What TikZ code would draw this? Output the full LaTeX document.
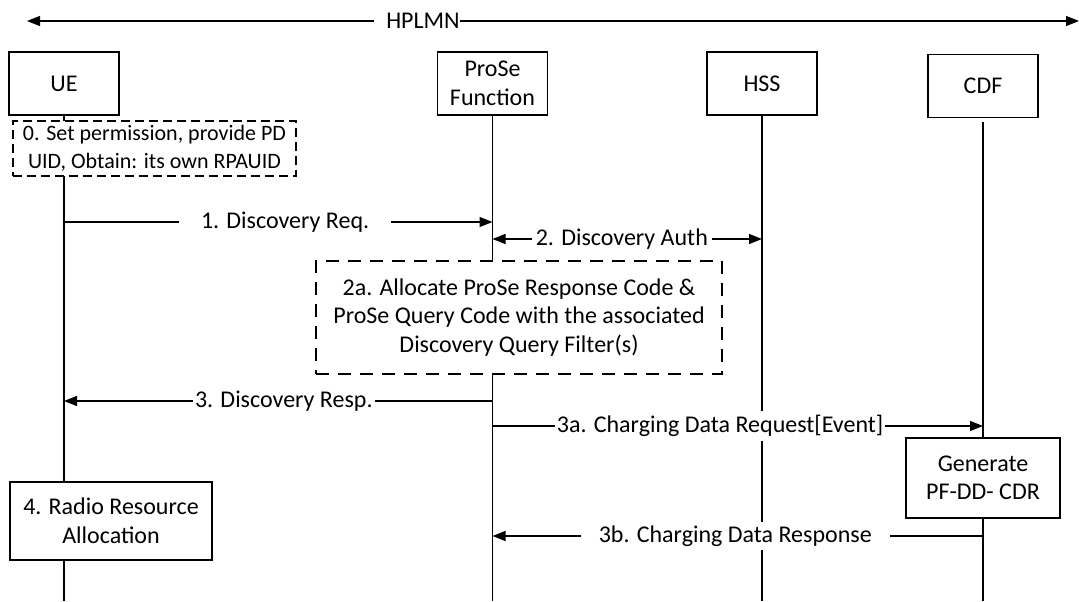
\documentclass[tikz,border=0pt]{standalone}
\usepackage{fontspec}
\setmainfont{Carlito}
\usetikzlibrary{positioning,arrows.meta}
\tikzset{
	entity/.style={draw, fill=white, minimum width=110pt, minimum height=63pt, align=center, inner sep=0},
	notebox/.style={draw, fill=white, dash pattern=on 9pt off 5pt, align=center, inner sep=0, font=\fontsize{22}{27.5}\selectfont},
	allocbox/.style={draw, fill=white, dash pattern=on 13pt off 9pt, align=center, inner sep=0},
	actbox/.style={draw, fill=white, align=center, inner sep=0},
	msglabel/.style={fill=white, inner ysep=4pt, inner xsep=2pt},
	>={Triangle[length=13pt,width=10pt]}
}

\begin{document}
\begin{tikzpicture}[x=1pt, y=-1pt, line width=1.2pt, font=\fontsize{24}{28.5}\selectfont]
	\useasboundingbox (0,0) rectangle (1079,602);
	
	% entities
	\node [entity] (ue) at (64,83.5) {UE};
	\node [entity] (prose) at (492.5,83.5) {ProSe\\Function};
	\node [entity] (hss) at (762,83.5) {HSS};
	\node [entity] (cdf) at (983,86) {CDF};
	\coordinate (bot) at (0,601);
	
	% HPLMN span
	\node [inner sep=0] (hplmn) at (423,21) {HPLMN};
	\coordinate (lft) at (27,21);
	\coordinate (rgt) at (1079,21);
	\draw [->] ([xshift=-12pt]hplmn.west) -- (lft);
	\draw [->] (hplmn.east) -- (rgt);
	
	% lifelines
	\draw (ue.south) -- (ue.south |- bot);
	\draw (prose.south) -- (prose.south |- bot);
	\draw (hss.south) -- (hss.south |- bot);
	\draw ([yshift=-4pt]cdf.south) -- (cdf.south |- bot);
	
	% local steps
	\node [notebox, minimum width=283pt, minimum height=55pt] (n0) at (154.5,148.5) {0. Set permission, provide PD\\UID, Obtain: its own RPAUID};
	\node [allocbox, minimum width=406pt, minimum height=113pt] (n2a) at (519,317.5) {2a. Allocate ProSe Response Code \&\\ProSe Query Code with the associated\\Discovery Query Filter(s)};
	\node [actbox, minimum width=154pt, minimum height=80pt] (gen) at (983,478) {Generate\\PF-DD- CDR};
	\node [actbox, minimum width=202pt, minimum height=78pt] (radio) at (111,521) {4. Radio Resource\\Allocation};
	
	% messages
	\coordinate (s1) at (0,222);
	\coordinate (s2) at (0,239);
	\coordinate (s3) at (0,401);
	\coordinate (s3a) at (0,426);
	\coordinate (s3b) at (0,536);
	\draw [->] (ue |- s1) -- node [msglabel, pos=0.516, inner xsep=22pt] {1. Discovery Req.} (prose |- s1);
	\draw [<->] (prose |- s2) -- node [msglabel, pos=0.48, inner xsep=4pt] {2. Discovery Auth} (hss |- s2);
	\draw [->] (prose |- s3) -- node [msglabel, pos=0.487] {3. Discovery Resp.} (ue |- s3);
	\draw [->] (prose |- s3a) -- node [msglabel, pos=0.464] {3a. Charging Data Request[Event]} (cdf |- s3a);
	\draw [->] (cdf |- s3b) -- node [msglabel, pos=0.505, inner xsep=18pt] {3b. Charging Data Response} (prose |- s3b);
\end{tikzpicture}
\end{document}
